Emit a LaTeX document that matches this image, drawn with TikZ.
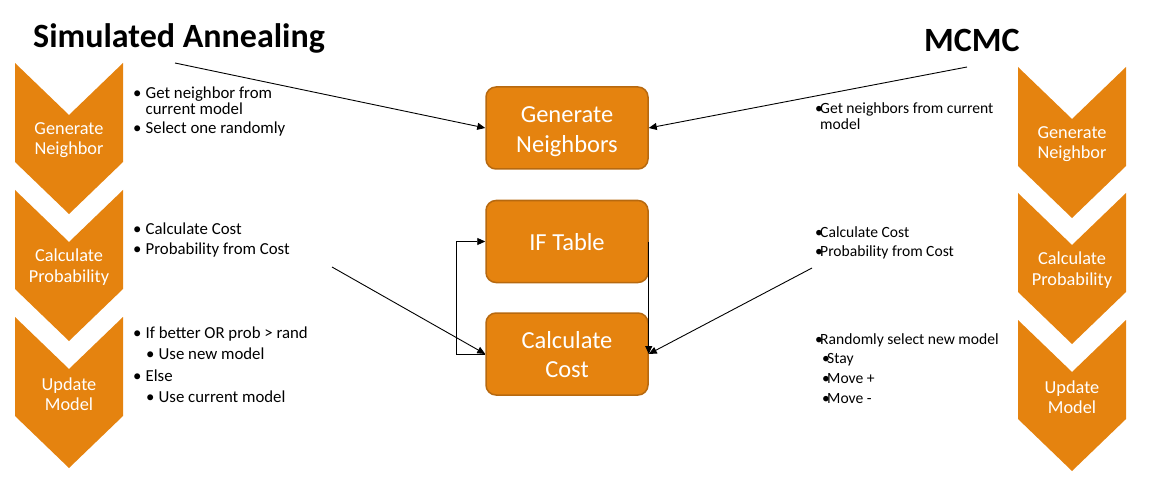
\documentclass[tikz,border=0pt]{standalone}
\usepackage{fontspec}
\setmainfont{Carlito}
\usetikzlibrary{arrows.meta}
\definecolor{chev}{HTML}{E5830F}
\definecolor{boxline}{HTML}{B7690F}
\tikzset{
  chevtext/.style={text=white, align=center, font=\fontsize{18.3}{20.5}\selectfont, inner sep=0pt},
  procbox/.style={draw=boxline, line width=1.5pt, fill=chev, rounded corners=10pt, minimum width=162pt, minimum height=82pt, inner sep=0pt},
  boxtext/.style={anchor=base, text=white, inner sep=0pt, font=\fontsize{24.5}{30}\selectfont},
  ltxt/.style={anchor=base west, inner sep=0pt, font=\fontsize{16.8}{18}\selectfont},
  rtxt/.style={anchor=base west, inner sep=0pt, font=\fontsize{15.6}{17}\selectfont},
  titletxt/.style={anchor=base west, inner sep=0pt, font=\fontsize{34}{36}\selectfont\bfseries},
  conn/.style={draw=black, line width=0.9pt, -{Triangle[length=8pt,width=7pt]}}
}
\newcommand{\lb}{\makebox[12.5pt][l]{•}}
\newcommand{\rb}{\makebox[5pt][l]{•}}
\newcommand{\chevron}[2]{% x0, top
  \fill[chev] (#1,#2) -- ++(54,52) -- ++(54,-52) -- ++(0,99) -- ++(-54,52) -- ++(-54,-52) -- cycle;
}
\begin{document}
\begin{tikzpicture}[x=1pt,y=-1pt]
\useasboundingbox (0,0) rectangle (1161,481);
% titles
\node[titletxt] (tSA) at (33,47.5) {Simulated Annealing};
\node[titletxt] (tMC) at (924,51.5) {MCMC};
% left chevrons
\chevron{15}{63}
\chevron{15}{190}
\chevron{15}{317}
\node[chevtext] (lc1) at (69,140) {Generate\\Neighbor};
\node[chevtext] (lc2) at (69,267) {Calculate\\Probability};
\node[chevtext] (lc3) at (69,394) {Update\\Model};
% right chevrons
\chevron{1018}{67}
\chevron{1018}{193}
\chevron{1018}{320}
\node[chevtext] (rc1) at (1072,144) {Generate\\Neighbor};
\node[chevtext] (rc2) at (1072,270) {Calculate\\Probability};
\node[chevtext] (rc3) at (1072,397) {Update\\Model};
% left texts
\node[ltxt] (la1) at (133,98.3) {\lb Get neighbor from};
\node[ltxt] (la2) at (145.5,115) {current model};
\node[ltxt] (la3) at (133,133.3) {\lb Select one randomly};
\node[ltxt] (lb1) at (133,234.3) {\lb Calculate Cost};
\node[ltxt] (lb2) at (133,254.3) {\lb Probability from Cost};
\node[ltxt] (lc1t) at (133,338.3) {\lb If better OR prob > rand};
\node[ltxt] (lc2t) at (146,359.3) {\lb Use new model};
\node[ltxt] (lc3t) at (133,381.7) {\lb Else};
\node[ltxt] (lc4t) at (146,402.7) {\lb Use current model};
% right texts
\node[rtxt] (ra1) at (815,113.3) {\rb Get neighbors from current};
\node[rtxt] (ra2) at (820,129.5) {model};
\node[rtxt] (rb1) at (815,237.3) {\rb Calculate Cost};
\node[rtxt] (rb2) at (815,256.3) {\rb Probability from Cost};
\node[rtxt] (rc1t) at (815,344) {\rb Randomly select new model};
\node[rtxt] (rc2t) at (822,363.5) {\rb Stay};
\node[rtxt] (rc3t) at (822,383.5) {\rb Move +};
\node[rtxt] (rc4t) at (822,403.5) {\rb Move -};
% center boxes
\node[procbox] (GN) at (567,128) {};
\node[procbox] (IF) at (567,241.5) {};
\node[procbox] (CC) at (567,354) {};
\node[boxtext] (GNa) at (567,122.5) {Generate};
\node[boxtext] (GNb) at (567,152.3) {Neighbors};
\node[boxtext] (IFa) at (567,250) {IF Table};
\node[boxtext] (CCa) at (567,348) {Calculate};
\node[boxtext] (CCb) at (567,377.7) {Cost};
% free ends
\coordinate (sa) at (175,63);
\coordinate (mc) at (967,67);
\coordinate (lp) at (332,267);
\coordinate (rp) at (812,268);
% connectors
\draw[conn] (sa) -- (GN.west);
\draw[conn] (mc) -- (GN.east);
\draw[conn] (lp) -- (CC.west);
\draw[conn] (rp) -- (CC.east);
\draw[conn] (CC.west) -- ++(-29,0) |- (IF.west);
\draw[conn] (IF.east) -- (CC.east);
\end{tikzpicture}
\end{document}
